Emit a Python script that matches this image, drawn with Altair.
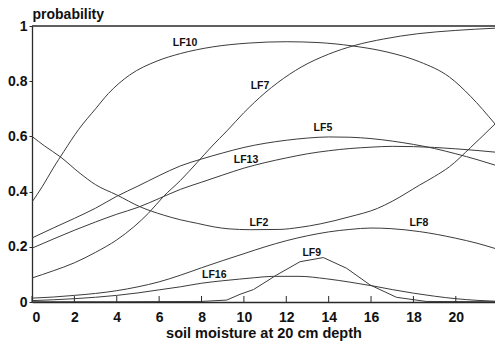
import altair as alt
import pandas as pd

# ---- data ----
LF10_x = [0, 0.5, 1.0, 1.5, 2.2, 3.0, 3.6, 4.6, 5.9, 7.0, 8.5, 10.2, 12.0, 13.5, 15.1, 16.8, 18.3, 19.7, 20.7, 21.85]
LF10_y = [0.362, 0.42, 0.485, 0.545, 0.625, 0.70, 0.755, 0.822, 0.873, 0.900, 0.924, 0.938, 0.943, 0.940, 0.928, 0.905, 0.870, 0.815, 0.745, 0.645]

LF7_x = [0, 1, 2, 3, 4, 4.8, 5.5, 6.2, 7.0, 7.8, 8.5, 9.2, 10.0, 11.0, 11.6, 12.7, 14.0, 15.2, 16.6, 18.2, 20.0, 21.85]
LF7_y = [0.087, 0.113, 0.142, 0.18, 0.225, 0.272, 0.322, 0.382, 0.44, 0.506, 0.565, 0.62, 0.686, 0.758, 0.795, 0.851, 0.898, 0.929, 0.953, 0.972, 0.984, 0.992]

LF5_x = [0, 1, 2, 3, 4, 5, 6, 7, 8, 9, 10, 11, 12, 13, 14, 15, 16, 17, 18, 19, 20, 21, 21.85]
LF5_y = [0.232, 0.268, 0.303, 0.34, 0.383, 0.42, 0.458, 0.493, 0.518, 0.54, 0.56, 0.575, 0.586, 0.594, 0.598, 0.597, 0.592, 0.583, 0.571, 0.556, 0.537, 0.516, 0.496]

LF13_x = [0, 1, 2, 3, 4, 5, 6, 7, 8, 9, 10, 11, 12, 13, 14, 15, 16, 17, 18, 19, 20, 21, 21.85]
LF13_y = [0.195, 0.228, 0.26, 0.29, 0.318, 0.343, 0.375, 0.408, 0.434, 0.46, 0.485, 0.505, 0.522, 0.537, 0.548, 0.556, 0.561, 0.564, 0.563, 0.56, 0.555, 0.549, 0.543]

LF2_x = [0, 0.6, 1.32, 2.27, 3, 4, 5.1, 6.2, 7.0, 7.8, 8.6, 9.3, 10.3, 11.7, 12.6, 13.6, 15.0, 16.3, 17.0, 18.3, 19.0, 19.7, 20.7, 21.85]
LF2_y = [0.600, 0.565, 0.527, 0.466, 0.425, 0.388, 0.345, 0.315, 0.298, 0.285, 0.272, 0.265, 0.262, 0.263, 0.270, 0.283, 0.309, 0.339, 0.365, 0.424, 0.455, 0.49, 0.56, 0.645]

LF8_x = [0, 1, 2, 3, 4, 5, 6, 7, 8, 9, 10, 11, 12, 13, 14, 15, 16, 16.9, 18.3, 20.0, 21.0, 21.85]
LF8_y = [0.014, 0.018, 0.024, 0.031, 0.041, 0.055, 0.073, 0.097, 0.124, 0.15, 0.175, 0.2, 0.222, 0.24, 0.254, 0.263, 0.268, 0.266, 0.255, 0.231, 0.213, 0.194]

LF16_x = [0, 2, 4, 5, 6, 7, 8, 9, 9.8, 10.5, 11.4, 12.6, 13.9, 15, 16.1, 17, 18, 19, 20, 21, 21.85]
LF16_y = [0.005, 0.012, 0.024, 0.033, 0.044, 0.055, 0.068, 0.077, 0.083, 0.088, 0.093, 0.093, 0.084, 0.072, 0.058, 0.045, 0.032, 0.021, 0.012, 0.006, 0.003]

LF9_x = [0, 4, 8, 9.19, 9.82, 10.45, 11.55, 12.65, 13.75, 14.85, 15.95, 17.2, 18.6, 21.85]
LF9_y = [0.001, 0.001, 0.002, 0.007, 0.028, 0.045, 0.098, 0.146, 0.161, 0.122, 0.062, 0.017, 0.002, 0.001]

label_names = ["LF10", "LF7", "LF5", "LF13", "LF2", "LF8", "LF9", "LF16"]
label_x = [7.22, 10.76, 13.73, 10.1, 10.71, 18.26, 13.2, 8.6]
label_y = [0.938, 0.783, 0.63, 0.514, 0.286, 0.286, 0.178, 0.098]

x_ticks = [0, 2, 4, 6, 8, 10, 12, 14, 16, 18, 20]
y_ticks = [0, 0.2, 0.4, 0.6, 0.8, 1]

smooth_series = {
    "LF10": (LF10_x, LF10_y), "LF7": (LF7_x, LF7_y), "LF5": (LF5_x, LF5_y),
    "LF13": (LF13_x, LF13_y), "LF2": (LF2_x, LF2_y), "LF8": (LF8_x, LF8_y),
    "LF16": (LF16_x, LF16_y),
}
rows = []
for name, (xs, ys) in smooth_series.items():
    for a, b in zip(xs, ys):
        rows.append({"series": name, "x": a, "y": b})
df = pd.DataFrame(rows)
df9 = pd.DataFrame({"series": "LF9", "x": LF9_x, "y": LF9_y})
labels = pd.DataFrame({"name": label_names, "x": label_x, "y": label_y})

W, H = 463, 276
FONT = "Liberation Sans"
INK = "#2a2a2a"
LINE = "#3c3c3c"

xscale = alt.Scale(domain=[0, 21.85], nice=False, zero=False)
yscale = alt.Scale(domain=[0, 1], nice=False)

xaxis = alt.Axis(values=x_ticks, format="d", grid=False, tickSize=0, labelPadding=8,
                 labelFont=FONT, labelFontSize=14, labelFontWeight="bold", labelColor="#111",
                 domainColor=INK, domainWidth=1.3,
                 title="soil moisture at 20 cm depth", titleFont=FONT, titleFontSize=14.5,
                 titleFontWeight="bold", titleColor="#111", titleY=35,
                 titleBaseline="alphabetic")
yaxis = alt.Axis(values=y_ticks, format=".1~f", grid=False, tickSize=3, tickColor=INK,
                 labelPadding=2, labelFont=FONT, labelFontSize=14, labelFontWeight="bold",
                 labelColor="#111", domainColor=INK, domainWidth=1.3,
                 title="probability", titleFont=FONT, titleFontSize=14, titleFontWeight="bold",
                 titleColor="#111", titleAngle=0, titleAlign="left", titleX=0, titleY=-8,
                 titleBaseline="alphabetic")

smooth = alt.Chart(df).mark_line(interpolate="monotone", stroke=LINE, strokeWidth=1, clip=True).encode(
    x=alt.X("x:Q", scale=xscale, axis=xaxis),
    y=alt.Y("y:Q", scale=yscale, axis=yaxis),
    detail="series:N",
)
lf9 = alt.Chart(df9).mark_line(interpolate="linear", stroke=LINE, strokeWidth=1, clip=True).encode(
    x=alt.X("x:Q", scale=xscale),
    y=alt.Y("y:Q", scale=yscale),
)
top = alt.Chart(pd.DataFrame({"y": [1]})).mark_rule(stroke=INK, strokeWidth=1.3).encode(
    y=alt.Y("y:Q", scale=yscale)
)
ticks = alt.Chart(pd.DataFrame({"t": x_ticks})).mark_rule(stroke=INK, strokeWidth=1).encode(
    x=alt.X("t:Q", scale=xscale), y=alt.value(H), y2=alt.value(H - 6)
)
text = alt.Chart(labels).mark_text(font=FONT, fontSize=10.5, fontWeight="bold", color="#111",
                                   baseline="middle", align="center").encode(
    x=alt.X("x:Q", scale=xscale), y=alt.Y("y:Q", scale=yscale), text="name:N"
)

chart = alt.layer(smooth, lf9, top, ticks, text).properties(
    width=W, height=H,
    padding={"left": 32, "top": 26, "right": 0, "bottom": 39},
    autosize=alt.AutoSizeParams(type="none"),
    background="white",
).configure_view(stroke=None)

chart.save("out.html", embed_options={"renderer": "svg", "actions": False})
